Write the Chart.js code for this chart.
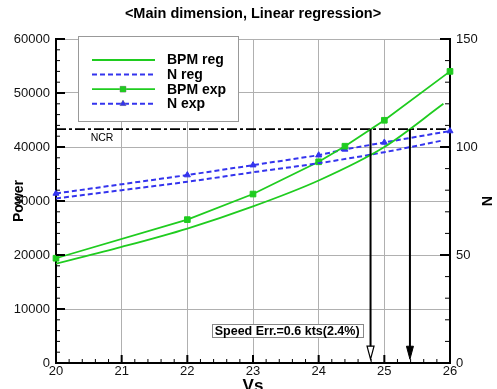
<!DOCTYPE html>
<html><head><meta charset="utf-8">
<script src="https://cdn.jsdelivr.net/npm/chart.js@4/dist/chart.umd.min.js"></script>
<style>html,body{margin:0;padding:0;background:#fff}#wrap{width:497px;height:389px;position:relative}</style>
</head><body><div id="wrap"><canvas id="c"></canvas></div>
<script>
// ---- data ----
const vsReg   = [20, 21, 22, 23, 24, 25, 25.9];
const bpmReg  = [18400, 21500, 24900, 29000, 33800, 40000, 48000];
const nReg    = [76.2, 80.0, 83.9, 88.3, 92.5, 97.6, 103.1];
const vsExp   = [20, 22, 23, 24, 24.4, 25, 26];
const bpmExp  = [19400, 26550, 31290, 37260, 40150, 44950, 54000];
const nExp    = [78.5, 87.0, 91.6, 96.2, 98.9, 102.1, 107.4];
const ncrVs   = [20, 26];
const ncrPower = [43300, 43300];
const arrowVs = [24.79, 25.39];
const arrowTipPower = 700;
const xTicks     = [20, 21, 22, 23, 24, 25, 26];
const powerTicks = [0, 10000, 20000, 30000, 40000, 50000, 60000];
const nTicks     = [0, 50, 100, 150];
const legendLabels = ['BPM reg', 'N reg', 'BPM exp', 'N exp'];
const titleText = '<Main dimension, Linear regression>';
const speedErrText = 'Speed Err.=0.6 kts(2.4%)';
const speedErrAt = {vs: 23.52, power: 5900};

const FAM = '"Liberation Sans", Arial, Helvetica, sans-serif';
const GREEN = '#1fcc1f', BLUE = '#3434ee';
const pts = (xs, ys) => xs.map((v, i) => ({x: v, y: ys[i]}));

const overlay = {
  id: 'overlay',
  afterDraw(chart) {
    const {ctx, chartArea: a, scales: {x, y, y2}} = chart;
    ctx.save();
    ctx.strokeStyle = '#000';
    const tick = (x1, y1, x2, y2_, lw) => { ctx.lineWidth = lw; ctx.beginPath(); ctx.moveTo(x1, y1); ctx.lineTo(x2, y2_); ctx.stroke(); };
    for (let v = 2000; v <= 60000; v += 2000) {
      const p = y.getPixelForValue(v), maj = v % 10000 === 0;
      tick(a.left, p, a.left + (maj ? 9 : 4), p, maj ? 2 : 1);
    }
    for (let v = 10; v <= 150; v += 10) {
      const p = y2.getPixelForValue(v), maj = v % 50 === 0;
      tick(a.right, p, a.right - (maj ? 10 : 5), p, maj ? 2 : 1);
    }
    for (let i = 1; i < 30; i++) {
      const v = 20 + i * 0.2, p = x.getPixelForValue(v), maj = i % 5 === 0;
      tick(p, a.bottom, p, a.bottom - (maj ? 8 : 4), maj ? 2 : 1);
    }
    arrowVs.forEach((vs, i) => {
      const px = x.getPixelForValue(vs), y0 = y.getPixelForValue(ncrPower[0]), y1 = y.getPixelForValue(arrowTipPower);
      ctx.lineWidth = 2; ctx.beginPath(); ctx.moveTo(px, y0); ctx.lineTo(px, y1 - 12); ctx.stroke();
      ctx.beginPath(); ctx.moveTo(px - 3.5, y1 - 13); ctx.lineTo(px + 3.5, y1 - 13); ctx.lineTo(px, y1); ctx.closePath();
      if (i === 0) { ctx.fillStyle = '#fff'; ctx.fill(); ctx.lineWidth = 1.2; ctx.stroke(); }
      else { ctx.fillStyle = '#000'; ctx.fill(); ctx.lineWidth = 1; ctx.stroke(); }
    });
    ctx.fillStyle = '#000'; ctx.font = '10.5px ' + FAM; ctx.textAlign = 'center'; ctx.textBaseline = 'middle';
    ctx.fillText('NCR', a.left + 46, y.getPixelForValue(ncrPower[0]) + 9);
    ctx.font = 'bold 12.5px ' + FAM;
    const cx = x.getPixelForValue(speedErrAt.vs), cy = y.getPixelForValue(speedErrAt.power);
    const w = ctx.measureText(speedErrText).width + 6;
    ctx.fillStyle = '#fff'; ctx.fillRect(cx - w / 2, cy - 7, w, 14);
    ctx.strokeStyle = '#888'; ctx.lineWidth = 1; ctx.strokeRect(Math.round(cx - w / 2) + 0.5, Math.round(cy - 7) + 0.5, Math.round(w), 13);
    ctx.fillStyle = '#000'; ctx.fillText(speedErrText, cx, cy + 0.5);
    const lx = a.left + 22, ly = a.top - 3;
    ctx.fillStyle = '#fff'; ctx.fillRect(lx, ly, 160, 85);
    ctx.strokeStyle = '#999'; ctx.strokeRect(lx + 0.5, ly + 0.5, 160, 85);
    const ds = chart.data.datasets;
    legendLabels.forEach((lab, i) => {
      const d = ds[i], ry = ly + 24 + i * 14.6;
      ctx.save();
      ctx.strokeStyle = d.borderColor; ctx.lineWidth = d.borderWidth; ctx.setLineDash(d.borderDash || []);
      ctx.beginPath(); ctx.moveTo(lx + 14, ry); ctx.lineTo(lx + 77, ry); ctx.stroke();
      ctx.restore();
      if (d.pointRadius > 0) {
        Chart.helpers.drawPoint(ctx, {pointStyle: d.pointStyle, radius: d.pointRadius, borderWidth: 1}, lx + 45, ry);
        ctx.fillStyle = d.backgroundColor; ctx.fill();
      }
      ctx.fillStyle = '#000'; ctx.font = 'bold 14px ' + FAM; ctx.textAlign = 'left'; ctx.textBaseline = 'middle';
      ctx.fillText(lab, lx + 89, ry + 0.5);
    });
    ctx.restore();
  }
};

new Chart(document.getElementById('c'), {
  type: 'line',
  data: {
    datasets: [
      {label: legendLabels[0], data: pts(vsReg, bpmReg), yAxisID: 'y', borderColor: GREEN, backgroundColor: GREEN, borderWidth: 1.8, pointRadius: 0, cubicInterpolationMode: 'monotone'},
      {label: legendLabels[1], data: pts(vsReg, nReg), yAxisID: 'y2', borderColor: BLUE, backgroundColor: BLUE, borderWidth: 2, borderDash: [5, 3], pointRadius: 0, cubicInterpolationMode: 'monotone'},
      {label: legendLabels[2], data: pts(vsExp, bpmExp), yAxisID: 'y', borderColor: GREEN, backgroundColor: GREEN, borderWidth: 1.8, pointStyle: 'rect', pointRadius: 4, pointBorderWidth: 1, clip: false},
      {label: legendLabels[3], data: pts(vsExp, nExp), yAxisID: 'y2', borderColor: BLUE, backgroundColor: BLUE, borderWidth: 2, borderDash: [5, 3], pointStyle: 'triangle', pointRadius: 3.5, pointBorderWidth: 1, clip: false},
      {label: 'NCR', data: pts(ncrVs, ncrPower), yAxisID: 'y', borderColor: '#000', borderWidth: 1.8, borderDash: [10, 3, 3, 3], pointRadius: 0}
    ]
  },
  options: {
    responsive: true, maintainAspectRatio: false, animation: false, devicePixelRatio: 1,
    layout: {padding: 0},
    plugins: {
      legend: {display: false}, tooltip: {enabled: false},
      title: {display: true, text: titleText, fullSize: false, color: '#000', font: {family: FAM, size: 14.5, weight: 'bold'}, padding: {top: 4.8, bottom: 16.8}}
    },
    scales: {
      x: {
        type: 'linear', position: 'bottom', min: 20, max: 26,
        afterBuildTicks: s => { s.ticks = xTicks.map(v => ({value: v})); },
        afterFit: s => { s.height = 26; },
        grid: {color: '#b0b0b0', lineWidth: 1, drawTicks: false},
        border: {display: true, color: '#000', width: 2},
        ticks: {padding: 1, color: '#111', font: {family: FAM, size: 13}, callback: v => String(v)},
        title: {display: true, text: 'Vs', color: '#000', font: {family: FAM, size: 17, weight: 'bold'}, padding: {top: 0, bottom: -8}}
      },
      y: {
        type: 'linear', position: 'left', min: 0, max: 60000,
        afterBuildTicks: s => { s.ticks = powerTicks.map(v => ({value: v})); },
        afterFit: s => { s.width = 56; },
        grid: {color: '#b0b0b0', lineWidth: 1, drawTicks: false},
        border: {display: true, color: '#000', width: 2},
        ticks: {padding: 6, color: '#111', font: {family: FAM, size: 13}, callback: v => String(v)},
        title: {display: true, text: 'Power', color: '#000', font: {family: FAM, size: 14, weight: 'bold'}, padding: {top: 10.6, bottom: 0}}
      },
      y2: {
        type: 'linear', position: 'right', min: 0, max: 150,
        afterBuildTicks: s => { s.ticks = nTicks.map(v => ({value: v})); },
        afterFit: s => { s.width = 47; },
        grid: {display: true, drawOnChartArea: false, drawTicks: false},
        border: {display: true, color: '#000', width: 2},
        ticks: {padding: 6, color: '#111', font: {family: FAM, size: 13}, callback: v => String(v)},
        title: {display: true, text: 'N', color: '#000', font: {family: FAM, size: 14, weight: 'bold'}, padding: {top: 2.6, bottom: 0}}
      }
    }
  },
  plugins: [overlay]
});
</script></body></html>
